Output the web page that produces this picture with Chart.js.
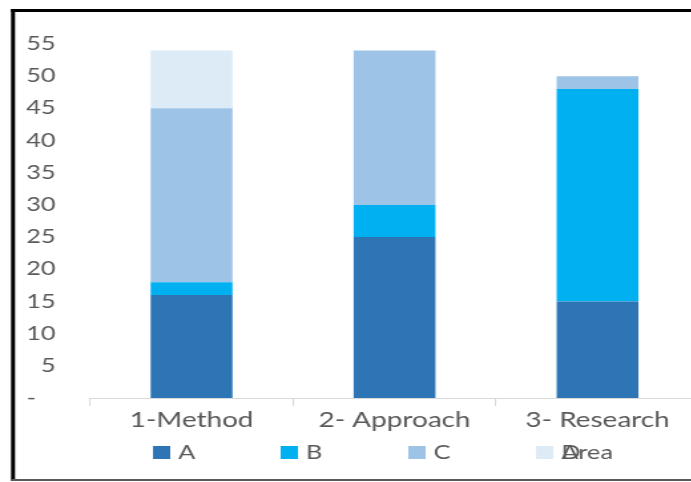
<!DOCTYPE html>
<html>
<head>
<meta charset="utf-8">
<script src="https://cdn.jsdelivr.net/npm/chart.js@4/dist/chart.umd.min.js"></script>
<style>
  html, body { margin: 0; padding: 0; background: #fff; overflow: hidden; width: 691px; height: 482px; }
  #wrap { position: absolute; left: 0; top: 0; transform: scaleX(1.33); transform-origin: 0 0; }
  canvas { display: block; }
</style>
</head>
<body>
<div id="wrap"><canvas id="chart" width="530" height="482"></canvas></div>
<script>
// Categories and stacked series
const categories = ['1-Method', '2- Approach', '3- Research'];
const seriesNames = ['A', 'B', 'C', 'D'];
const valuesA = [16, 25, 15];
const valuesB = [2, 5, 33];
const valuesC = [27, 24, 2];
const valuesD = [9, 0, 0];
const yTicks = [0, 5, 10, 15, 20, 25, 30, 35, 40, 45, 50, 55];
const legendTitle = 'Area';

const colors = ['#2E75B6', '#00B0F0', '#9DC3E6', '#DDEBF7'];
const seriesValues = [valuesA, valuesB, valuesC, valuesD];
const textColor = '#595959';
const FONT = 'Lato, "Open Sans", sans-serif';

// White background and the black frame around the chart
const framePlugin = {
  id: 'frame',
  beforeDraw(chart) {
    const ctx = chart.ctx;
    ctx.save();
    ctx.fillStyle = '#ffffff';
    ctx.fillRect(0, 0, chart.width, chart.height);
    ctx.fillStyle = '#000000';
    ctx.fillRect(8.3, 9, 3, 472);
    ctx.fillRect(8.3, 9, chart.width, 3);
    ctx.fillStyle = '#5a5a5a';
    ctx.fillRect(8.3, 479, chart.width, 2);
    ctx.restore();
  }
};

// Legend row below the category labels, evenly spaced
const legendPlugin = {
  id: 'rowLegend',
  afterDraw(chart) {
    const ctx = chart.ctx;
    const start = 115, step = 96, box = 13, top = 446;
    ctx.save();
    ctx.font = '19px ' + FONT;
    ctx.textBaseline = 'alphabetic';
    ctx.textAlign = 'left';
    chart.data.datasets.forEach((ds, i) => {
      const x = start + i * step;
      ctx.fillStyle = ds.backgroundColor;
      ctx.fillRect(x, top, box, box);
      ctx.fillStyle = textColor;
      ctx.fillText(ds.label, x + 19, top + box);
    });
    const last = start + (chart.data.datasets.length - 1) * step;
    ctx.fillText(legendTitle, last + 19, top + box);
    ctx.restore();
  }
};

new Chart(document.getElementById('chart'), {
  type: 'bar',
  data: {
    labels: categories,
    datasets: seriesNames.map((name, i) => ({
      label: name,
      data: seriesValues[i],
      backgroundColor: colors[i],
      borderWidth: 0,
      barPercentage: 0.403,
      categoryPercentage: 1.0
    }))
  },
  options: {
    responsive: false,
    animation: false,
    devicePixelRatio: 1,
    layout: { padding: { top: 44, left: 0, right: 4.4, bottom: 0 } },
    plugins: {
      legend: { display: false },
      tooltip: { enabled: false }
    },
    scales: {
      x: {
        stacked: true,
        offset: true,
        grid: { display: true, drawOnChartArea: false, drawTicks: true, tickLength: 8, color: '#d9d9d9', lineWidth: 1 },
        border: { display: true, color: '#d9d9d9', width: 1 },
        ticks: { color: textColor, font: { family: FONT, size: 21 }, padding: 2, maxRotation: 0 },
        afterFit(scale) { scale.height = 84; }
      },
      y: {
        stacked: true,
        min: 0,
        max: 55,
        grid: { display: false, drawTicks: false },
        border: { display: false },
        afterBuildTicks(scale) { scale.ticks = yTicks.map(v => ({ value: v })); },
        ticks: {
          color: textColor,
          font: { family: FONT, size: 19 },
          padding: 26,
          callback: (v) => (v === 0 ? '-   ' : String(v))
        },
        afterFit(scale) { scale.width = 67.7; }
      }
    }
  },
  plugins: [framePlugin, legendPlugin]
});
</script>
</body>
</html>
